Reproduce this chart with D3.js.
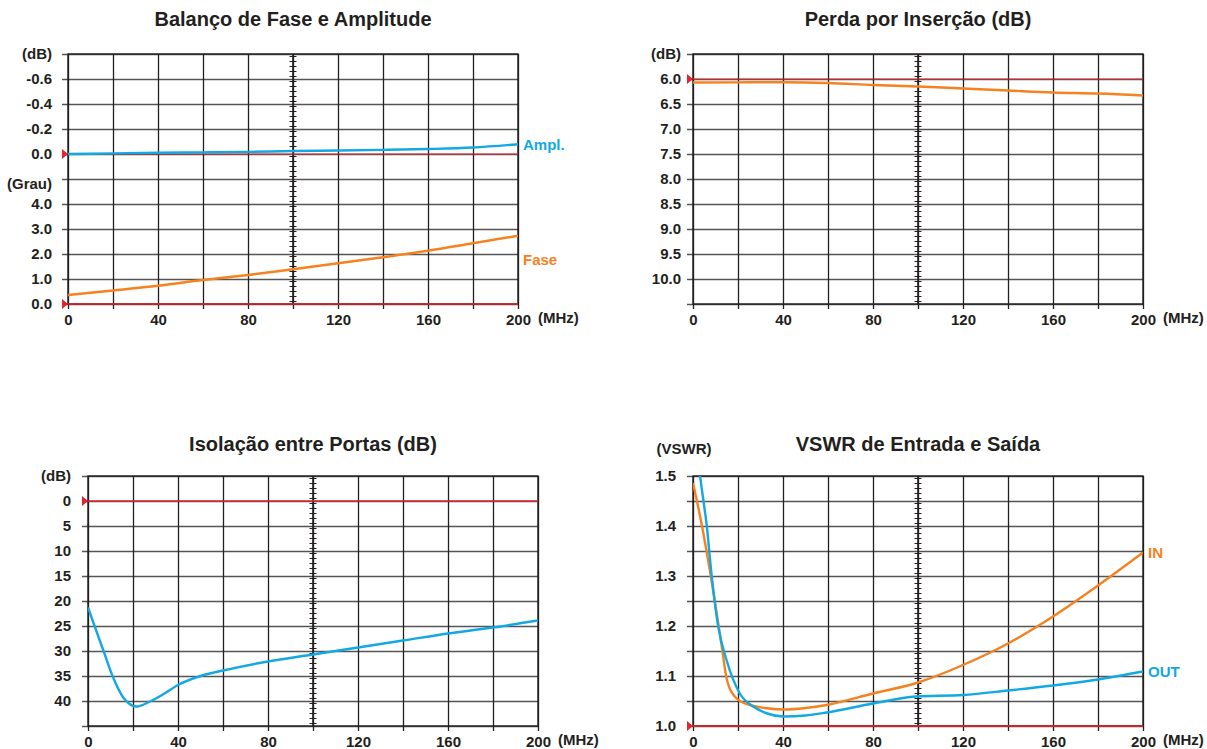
<!DOCTYPE html>
<html>
<head>
<meta charset="utf-8">
<script src="https://cdn.jsdelivr.net/npm/d3@7"></script>
<style>
  body { margin: 0; background: #fff; }
  text { font-family: "Liberation Sans", Arial, sans-serif; font-weight: bold; fill: #231f20; }
</style>
</head>
<body>
<svg id="chart"></svg>
<script>
// frequency axis
const freqTicks = [0, 40, 80, 120, 160, 200];

// Balanço de Fase e Amplitude
const balFreq = [0, 20, 40, 60, 80, 100, 120, 140, 160, 180, 200];
const amplDb = [0.0, -0.005, -0.01, -0.013, -0.017, -0.024, -0.028, -0.033, -0.04, -0.052, -0.078];
const phaseDeg = [0.36, 0.54, 0.73, 0.96, 1.16, 1.39, 1.63, 1.87, 2.13, 2.43, 2.73];
const balRowLabels = ['(dB)', '-0.6', '-0.4', '-0.2', '0.0', '(Grau)', '4.0', '3.0', '2.0', '1.0', '0.0'];

// Perda por Inserção
const insFreq = [0, 20, 40, 60, 80, 100, 120, 140, 160, 180, 200];
const insLoss = [6.07, 6.067, 6.065, 6.08, 6.12, 6.15, 6.19, 6.23, 6.27, 6.29, 6.33];
const insRowLabels = ['(dB)', '6.0', '6.5', '7.0', '7.5', '8.0', '8.5', '9.0', '9.5', '10.0', ''];

// Isolação entre Portas
const isoFreq = [0, 3, 7, 11, 16, 21.6, 27.6, 34, 40, 50, 60, 80, 100, 120, 140, 160, 180, 200];
const isoDb = [21.3, 25.1, 30.1, 35.1, 39.5, 41.1, 40.1, 38.5, 36.8, 35.0, 33.9, 32.1, 30.7, 29.3, 27.9, 26.5, 25.3, 23.9];
const isoRowLabels = ['(dB)', '0', '5', '10', '15', '20', '25', '30', '35', '40', ''];

// VSWR de Entrada e Saída
const inFreq = [0, 4, 8.2, 12.6, 15.1, 19.4, 25.2, 32, 40, 50, 59.4, 80, 100, 120, 140, 160, 180, 200];
const vswrIn = [1.486, 1.40, 1.292, 1.165, 1.092, 1.055, 1.042, 1.036, 1.033, 1.036, 1.042, 1.065, 1.087, 1.122, 1.165, 1.219, 1.281, 1.347];
const outFreq = [2.5, 4.5, 6, 8.2, 11.2, 14.9, 20.8, 26.8, 33, 40, 50, 59.4, 80, 99, 120, 140, 160, 180, 200];
const vswrOut = [1.52, 1.455, 1.405, 1.305, 1.199, 1.132, 1.065, 1.039, 1.025, 1.019, 1.021, 1.027, 1.045, 1.059, 1.062, 1.071, 1.081, 1.093, 1.109];
const vswrRowLabels = ['1.5', '', '1.4', '', '1.3', '', '1.2', '', '1.1', '', '1.0'];

const BLUE = '#12a9e3';
const ORANGE = '#f5821f';
const RED = '#e52330';
const W = 450, H = 250;
const FONT = '"Liberation Sans", Arial, sans-serif';

const svg = d3.select('#chart').attr('width', 1207).attr('height', 749);
svg.append('rect').attr('width', 1207).attr('height', 749).attr('fill', '#fff');

function panel(left, top, title, titleDy, rowLabels, labelPad) {
  const g = svg.append('g').attr('transform', `translate(${left},${top})`);
  const x = d3.scaleLinear().domain([0, 200]).range([0, W]);
  const row = d3.scaleLinear().domain([0, 10]).range([0, H]);

  g.append('text').attr('x', W / 2).attr('y', titleDy)
    .attr('text-anchor', 'middle').style('font-size', '20px').text(title);

  // horizontal grid + left stubs with labels
  const yAx = g.append('g')
    .call(d3.axisLeft(row).tickValues(d3.range(11)).tickSize(6).tickPadding(labelPad).tickFormat(i => rowLabels[i]));
  yAx.select('.domain').remove();
  yAx.selectAll('line').attr('stroke', '#555').attr('stroke-width', 1.5);
  yAx.selectAll('text').style('font-size', '15px').style('font-family', FONT).attr('fill', '#231f20');

  const hGrid = g.append('g').call(d3.axisLeft(row).tickValues(d3.range(11)).tickSize(-W).tickFormat(''));
  hGrid.select('.domain').remove();
  hGrid.selectAll('line').attr('stroke', '#555').attr('stroke-width', 1.5);

  // vertical grid + bottom stubs with labels
  const vGrid = g.append('g').call(d3.axisBottom(x).tickValues(d3.range(0, 201, 20)).tickSize(H).tickFormat(''));
  vGrid.select('.domain').remove();
  vGrid.selectAll('line').attr('stroke', '#231f20').attr('stroke-width', 1.3);

  const xAx = g.append('g').attr('transform', `translate(0,${H})`)
    .call(d3.axisBottom(x).tickValues(d3.range(0, 201, 20)).tickSize(5).tickPadding(5)
      .tickFormat(d => freqTicks.includes(d) ? d : ''));
  xAx.select('.domain').remove();
  xAx.selectAll('line').attr('stroke', '#231f20').attr('stroke-width', 1.3);
  xAx.selectAll('text').style('font-size', '15px').style('font-family', FONT).attr('fill', '#231f20');

  g.append('text').attr('x', W + 20).attr('y', H + 19).style('font-size', '15px').text('(MHz)');

  // frame
  g.append('rect').attr('width', W).attr('height', H)
    .attr('fill', 'none').attr('stroke', '#231f20').attr('stroke-width', 1.4);

  // ruler at 100 MHz
  const rx = x(100);
  g.append('line').attr('x1', rx).attr('x2', rx).attr('y1', 0).attr('y2', H)
    .attr('stroke', '#231f20').attr('stroke-width', 1.6);
  g.append('g').selectAll('line').data(d3.range(2.5, H, 5)).join('line')
    .attr('x1', rx - 3.5).attr('x2', rx + 3.5).attr('y1', d => d).attr('y2', d => d)
    .attr('stroke', '#231f20').attr('stroke-width', 1);

  const clipId = 'clip' + left + '_' + top;
  g.append('clipPath').attr('id', clipId).append('rect').attr('width', W).attr('height', H);

  return { g, x, clipId };
}

function refLine(p, y, color, width) {
  p.g.append('line').attr('x1', 0).attr('x2', W).attr('y1', y).attr('y2', y)
    .attr('stroke', color).attr('stroke-width', width);
  p.g.append('path').attr('d', `M-6,${y - 5}L0,${y}L-6,${y + 5}Z`).attr('fill', RED);
}

function curve(p, xs, ys, y, color) {
  const line = d3.line().x((d, i) => p.x(xs[i])).y(d => y(d)).curve(d3.curveMonotoneX);
  p.g.append('path').datum(ys).attr('d', line).attr('clip-path', `url(#${p.clipId})`)
    .attr('fill', 'none').attr('stroke', color).attr('stroke-width', 2.4);
}

function seriesLabel(p, txt, y, color) {
  p.g.append('text').attr('x', W + 5).attr('y', y).attr('dy', '0.35em')
    .style('font-size', '15px').style('fill', color).text(txt);
}

// Panel 1
const p1 = panel(68, 54, 'Balanço de Fase e Amplitude', -28, balRowLabels, 10);
const yAmp = d3.scaleLinear().domain([0, -0.6]).range([100, 25]);
const yPha = d3.scaleLinear().domain([0, 4]).range([250, 150]);
refLine(p1, yAmp(0), RED, 1.2);
refLine(p1, yPha(0), RED, 1.6);
curve(p1, balFreq, amplDb, yAmp, BLUE);
curve(p1, balFreq, phaseDeg, yPha, ORANGE);
seriesLabel(p1, 'Ampl.', yAmp(amplDb[amplDb.length - 1]), BLUE);
seriesLabel(p1, 'Fase', 206, ORANGE);
p1.g.selectAll('.tick text').filter(function () { return this.textContent === '(Grau)'; }).attr('dy', '0.65em');

// Panel 2
const p2 = panel(693, 54, 'Perda por Inserção (dB)', -28, insRowLabels, 6);
const yIns = d3.scaleLinear().domain([6, 10]).range([25, 225]);
refLine(p2, yIns(6), RED, 1.2);
curve(p2, insFreq, insLoss, yIns, ORANGE);

// Panel 3
const p3 = panel(88, 476, 'Isolação entre Portas (dB)', -25, isoRowLabels, 11);
const yIso = d3.scaleLinear().domain([0, 40]).range([25, 225]);
refLine(p3, yIso(0), RED, 1.4);
curve(p3, isoFreq, isoDb, yIso, BLUE);

// Panel 4
const p4 = panel(693, 476, 'VSWR de Entrada e Saída', -25, vswrRowLabels, 11);
const yVswr = d3.scaleLinear().domain([1.0, 1.5]).range([250, 0]);
p4.g.append('text').attr('x', -9).attr('y', -22).attr('text-anchor', 'middle').style('font-size', '15px').text('(VSWR)');
refLine(p4, yVswr(1.0), '#c8262d', 2.2);
curve(p4, inFreq, vswrIn, yVswr, ORANGE);
curve(p4, outFreq, vswrOut, yVswr, BLUE);
seriesLabel(p4, 'IN', yVswr(vswrIn[vswrIn.length - 1]), ORANGE);
seriesLabel(p4, 'OUT', yVswr(vswrOut[vswrOut.length - 1]), BLUE);
</script>
</body>
</html>
